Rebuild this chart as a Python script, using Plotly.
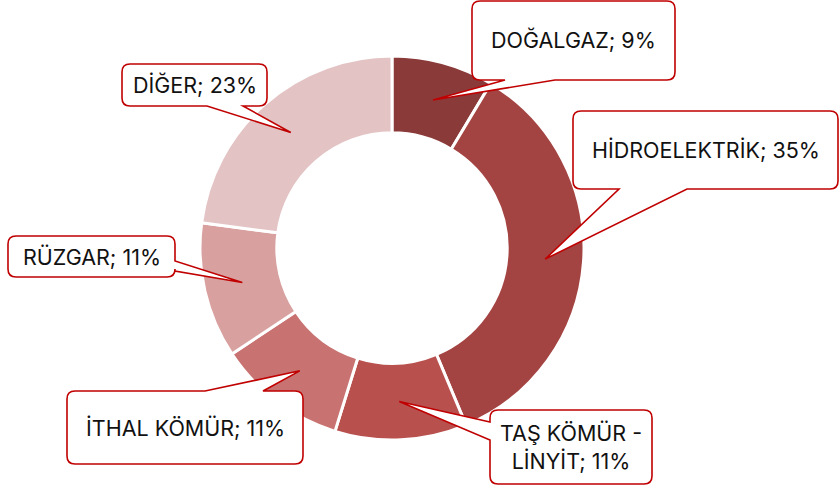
import math
import plotly.graph_objects as go

W, H = 840, 489

# ---- data ----
categories = ["DOĞALGAZ", "HİDROELEKTRİK", "TAŞ KÖMÜR - LİNYİT", "İTHAL KÖMÜR", "RÜZGAR", "DİĞER"]
values = [8.6, 35.1, 11.1, 10.9, 11.4, 22.9]
label_texts = ["DOĞALGAZ; 9%", "HİDROELEKTRİK; 35%", "TAŞ KÖMÜR -<br>LİNYİT; 11%",
               "İTHAL KÖMÜR; 11%", "RÜZGAR; 11%", "DİĞER; 23%"]
colors = ["#8B3A3A", "#A44442", "#B8504E", "#C87371", "#D8A09F", "#E3C3C4"]

# ---- layout (pixels) ----
cx, cy, R_out = 392, 248, 192
hole = 0.6
R_mid = R_out * (1 + hole) / 2

# callout boxes: (x0, y0, x1, y1, side, b0, b1)
boxes = [
    (472, 1, 675, 80, "bottom", 505, 555),
    (573, 111, 838, 189, "bottom", 619, 687),
    (490, 410, 652, 484, "left", 422, 440),
    (67, 391, 303, 464, "top", 205, 263),
    (8, 236, 175, 277, "right", 261, 271),
    (122, 64, 267, 106, "bottom", 207, 243),
]

def px(x):
    return x / W

def py(y):
    return 1 - y / H

def P(x, y):
    return f"{px(x):.5f},{py(y):.5f}"

def callout_path(x0, y0, x1, y1, side, b0, b1, tip, r=8):
    tx, ty = tip
    s = [f"M{P(x0 + r, y0)}"]
    if side == "top":
        s += [f"L{P(b0, y0)}", f"L{P(tx, ty)}", f"L{P(b1, y0)}"]
    s += [f"L{P(x1 - r, y0)}", f"Q{P(x1, y0)} {P(x1, y0 + r)}"]
    if side == "right":
        s += [f"L{P(x1, b0)}", f"L{P(tx, ty)}", f"L{P(x1, b1)}"]
    s += [f"L{P(x1, y1 - r)}", f"Q{P(x1, y1)} {P(x1 - r, y1)}"]
    if side == "bottom":
        s += [f"L{P(b1, y1)}", f"L{P(tx, ty)}", f"L{P(b0, y1)}"]
    s += [f"L{P(x0 + r, y1)}", f"Q{P(x0, y1)} {P(x0, y1 - r)}"]
    if side == "left":
        s += [f"L{P(x0, b1)}", f"L{P(tx, ty)}", f"L{P(x0, b0)}"]
    s += [f"L{P(x0, y0 + r)}", f"Q{P(x0, y0)} {P(x0 + r, y0)}", "Z"]
    return " ".join(s)

fig = go.Figure(go.Pie(
    labels=categories,
    values=values,
    hole=hole,
    sort=False,
    direction="clockwise",
    rotation=0,
    marker=dict(colors=colors, line=dict(color="white", width=3)),
    textinfo="none",
    showlegend=False,
    domain=dict(x=[px(cx - R_out), px(cx + R_out)], y=[py(cy + R_out), py(cy - R_out)]),
))

total = sum(values)
cum = 0
shapes, annotations = [], []
for v, txt, b in zip(values, label_texts, boxes):
    mid = (cum + v / 2) / total * 2 * math.pi
    cum += v
    tip = (cx + R_mid * math.sin(mid), cy - R_mid * math.cos(mid))
    x0, y0, x1, y1, side, b0, b1 = b
    shapes.append(dict(type="path", xref="paper", yref="paper",
                       path=callout_path(x0, y0, x1, y1, side, b0, b1, tip),
                       fillcolor="white", line=dict(color="#C00000", width=1.6),
                       layer="above"))
    annotations.append(dict(x=px((x0 + x1) / 2), y=py((y0 + y1) / 2), xref="paper", yref="paper",
                            text=txt, showarrow=False, xanchor="center", yanchor="middle",
                            font=dict(family="Inter", size=21.5, color="#111111")))

fig.update_layout(
    width=W, height=H,
    margin=dict(l=0, r=0, t=0, b=0),
    paper_bgcolor="white", plot_bgcolor="white",
    shapes=shapes, annotations=annotations,
)

fig.write_html("out.html", config={"displayModeBar": False},
               post_script="document.body.style.margin='0';document.body.style.overflow='hidden';")
